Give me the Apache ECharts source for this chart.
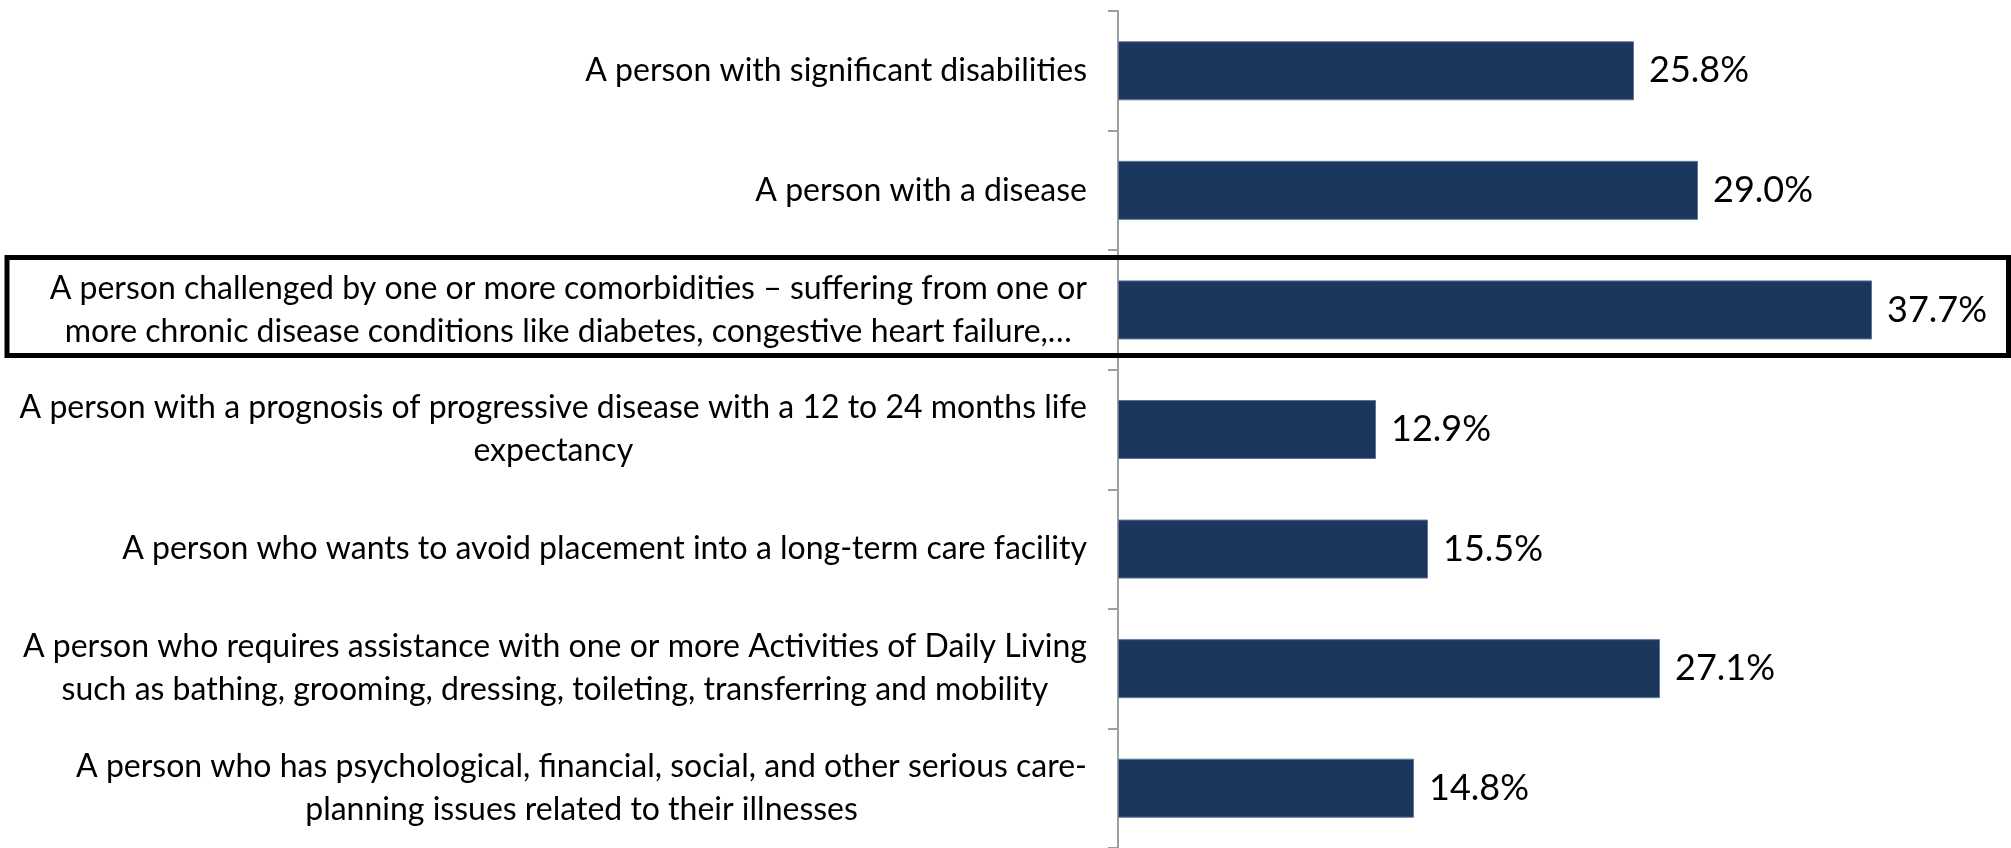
<!DOCTYPE html>
<html>
<head>
<meta charset="utf-8">
<script src="https://cdn.jsdelivr.net/npm/echarts@6/dist/echarts.min.js"></script>
<style>
html, body { margin: 0; padding: 0; background: #ffffff; }
#chart { width: 2011px; height: 848px; }
</style>
</head>
<body>
<div id="chart"></div>
<script>
// Categories, top to bottom (line breaks as in the original chart)
const categories = [
  'A person with significant disabilities',
  'A person with a disease',
  'A person challenged by one or more comorbidities \u2013 suffering from one or\nmore chronic disease conditions like diabetes, congestive heart failure,\u2026',
  'A person with a prognosis of progressive disease with a 12 to 24 months life\nexpectancy',
  'A person who wants to avoid placement into a long-term care facility',
  'A person who requires assistance with one or more Activities of Daily Living\nsuch as bathing, grooming, dressing, toileting, transferring and mobility',
  'A person who has psychological, financial, social, and other serious care-\nplanning issues related to their illnesses'
];
// Percent values
const values = [25.8, 29.0, 37.7, 12.9, 15.5, 27.1, 14.8];
const xMin = 0;
const xMax = 40;

const FONT = 'Lato, "Noto Sans", sans-serif';

const chart = echarts.init(document.getElementById('chart'), null, { renderer: 'canvas' });

chart.setOption({
  backgroundColor: '#ffffff',
  animation: false,
  grid: { left: 1118, top: 11, width: 800, height: 838, containLabel: false },
  xAxis: {
    type: 'value',
    min: xMin,
    max: xMax,
    show: false,
    splitLine: { show: false }
  },
  yAxis: {
    type: 'category',
    data: categories,
    inverse: true,
    axisLine: { show: true, lineStyle: { color: '#9e9e9e', width: 2 } },
    axisTick: { show: true, length: 10, lineStyle: { color: '#9e9e9e', width: 2 } },
    axisLabel: {
      margin: 31,
      color: '#000000',
      fontFamily: FONT,
      fontSize: 32,
      lineHeight: 43,
      align: 'right',
      formatter: function (v) {
        return v.split('\n').map(function (l) { return '{c|' + l + '}'; }).join('\n');
      },
      rich: {
        c: { align: 'center', fontFamily: FONT, fontSize: 32, lineHeight: 43, color: '#000000' }
      }
    },
    splitLine: { show: false }
  },
  series: [{
    type: 'bar',
    data: values,
    barWidth: 59,
    itemStyle: { color: '#1b375e', borderColor: '#5b7599', borderWidth: 1 },
    label: {
      show: true,
      position: 'right',
      distance: 15,
      color: '#000000',
      fontFamily: FONT,
      fontSize: 36,
      formatter: function (p) { return p.value.toFixed(1) + '%'; }
    }
  }],
  graphic: [{
    type: 'rect',
    z: 100,
    shape: { x: 7, y: 257.5, width: 2001.5, height: 98 },
    style: { fill: 'none', stroke: '#000000', lineWidth: 5 }
  }]
});
</script>
</body>
</html>
